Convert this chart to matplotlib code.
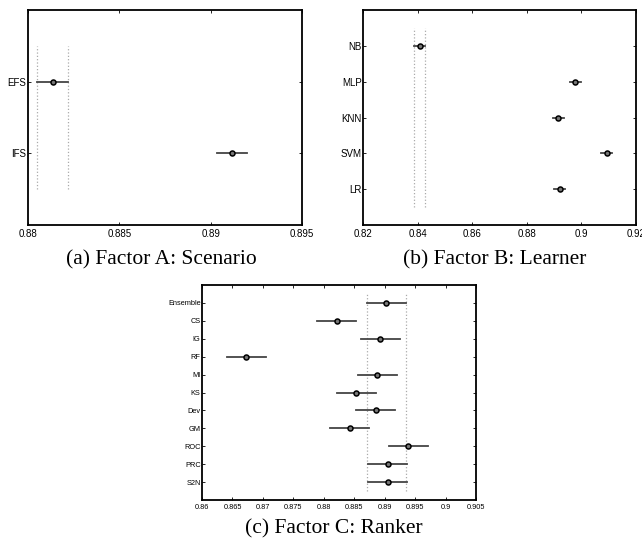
import matplotlib
matplotlib.use("Agg")
import matplotlib.pyplot as plt

# Factor A: Scenario
scenario_labels = ["EFS", "IFS"]
scenario_means = [0.88135, 0.89115]
scenario_half = [0.00085, 0.00082]

# Factor B: Learner
learner_labels = ["NB", "MLP", "KNN", "SVM", "LR"]
learner_means = [0.8407, 0.8977, 0.8916, 0.9093, 0.8921]
learner_half = [0.0020, 0.0020, 0.0020, 0.0020, 0.0020]

# Factor C: Ranker
ranker_labels = ["Ensemble", "CS", "IG", "RF", "MI", "KS", "Dev", "GM", "ROC", "PRC", "S2N"]
ranker_means = [0.8903, 0.8821, 0.8893, 0.8673, 0.8888, 0.8853, 0.8885, 0.8843,
                0.8939, 0.8905, 0.8905]
ranker_half = [0.0032] * 11


def draw_panel(ax, labels, means, half, xlim, xticks, xticklabels, fs):
    n = len(labels)
    ys = list(range(n, 0, -1))
    # reference interval of the first group
    lo = means[0] - half[0]
    hi = means[0] + half[0]
    for x in (lo, hi):
        ax.plot([x, x], [0.5, n + 0.5], linestyle=":", color="#aaaaaa", lw=0.9)
    for y, m, h in zip(ys, means, half):
        ax.plot([m - h, m + h], [y, y], color="#444444", lw=1.3)
        ax.plot(m, y, marker="o", ms=3.6, mfc="#777777", mec="black", mew=1.1)
    ax.set_xlim(*xlim)
    ax.set_ylim(0, n + 1)
    ax.set_yticks(ys)
    ax.set_yticklabels(labels)
    ax.set_xticks(xticks)
    ax.set_xticklabels(xticklabels)
    ax.tick_params(direction="in", top=True, right=True, length=2.5, width=0.6,
                   labelsize=fs, pad=3)
    ax.tick_params(axis="y", pad=1)
    for s in ax.spines.values():
        s.set_linewidth(1.3)
    for t in ax.get_xticklabels() + ax.get_yticklabels():
        t.set_family("Liberation Sans")


W, H = 642, 544
fig = plt.figure(figsize=(W / 100, H / 100), dpi=100)

ax_a = fig.add_axes([28 / W, 1 - 225 / H, 274 / W, 215 / H])
draw_panel(ax_a, scenario_labels, scenario_means, scenario_half,
           (0.88, 0.895), [0.88, 0.885, 0.89, 0.895],
           ["0.88", "0.885", "0.89", "0.895"], 7)

ax_b = fig.add_axes([363 / W, 1 - 225 / H, 273 / W, 215 / H])
draw_panel(ax_b, learner_labels, learner_means, learner_half,
           (0.82, 0.92), [0.82, 0.84, 0.86, 0.88, 0.9, 0.92],
           ["0.82", "0.84", "0.86", "0.88", "0.9", "0.92"], 7)

ax_c = fig.add_axes([202 / W, 1 - 500 / H, 274 / W, 215 / H])
draw_panel(ax_c, ranker_labels, ranker_means, ranker_half,
           (0.86, 0.905), [0.86 + 0.005 * i for i in range(10)],
           ["0.86", "0.865", "0.87", "0.875", "0.88", "0.885", "0.89", "0.895",
            "0.9", "0.905"], 5.3)

cap = dict(ha="center", va="center", family="Liberation Serif", fontsize=15.5)
fig.text(161 / W, 1 - 260 / H, "(a) Factor A: Scenario", **cap)
fig.text(495 / W, 1 - 260 / H, "(b) Factor B: Learner", **cap)
fig.text(334 / W, 1 - 529 / H, "(c) Factor C: Ranker", **cap)

fig.savefig("out.png", dpi=100)
